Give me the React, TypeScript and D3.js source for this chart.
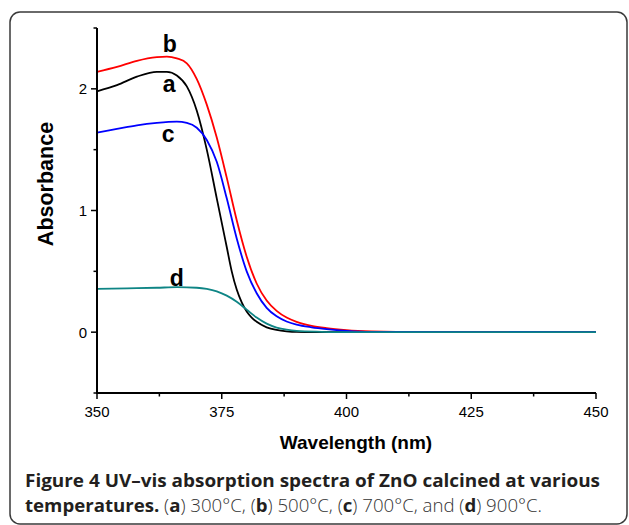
import React from "react";
import * as d3 from "d3";

// ---- data ----
const wavelengthsA = [350, 354, 358, 362, 364, 366, 368, 370, 372, 374, 376, 377, 378, 379, 380, 381, 382, 384, 386, 388, 390, 400, 450];
const absorbanceA = [1.98, 2.03, 2.1, 2.14, 2.14, 2.11, 2.02, 1.82, 1.5, 1.1, 0.7, 0.5, 0.35, 0.245, 0.17, 0.12, 0.085, 0.04, 0.018, 0.007, 0.002, 0, 0];

const wavelengthsB = [350, 354, 358, 362, 364, 366, 368, 370, 372, 374, 376, 378, 380, 382, 384, 386, 388, 390, 393, 396, 400, 405, 410, 450];
const absorbanceB = [2.14, 2.18, 2.23, 2.26, 2.265, 2.25, 2.21, 2.08, 1.87, 1.6, 1.27, 0.92, 0.62, 0.4, 0.26, 0.175, 0.12, 0.085, 0.052, 0.033, 0.017, 0.006, 0.002, 0];

const wavelengthsC = [350, 354, 358, 362, 366, 368, 370, 372, 374, 376, 378, 380, 382, 384, 386, 388, 390, 393, 396, 400, 405, 450];
const absorbanceC = [1.64, 1.67, 1.7, 1.72, 1.73, 1.72, 1.68, 1.58, 1.4, 1.1, 0.77, 0.5, 0.32, 0.2, 0.13, 0.088, 0.062, 0.04, 0.025, 0.011, 0.003, 0];

const wavelengthsD = [350, 356, 362, 366, 370, 372, 374, 376, 378, 380, 382, 384, 386, 388, 390, 395, 400, 450];
const absorbanceD = [0.355, 0.36, 0.365, 0.37, 0.365, 0.355, 0.335, 0.3, 0.25, 0.185, 0.12, 0.07, 0.038, 0.02, 0.01, 0.003, 0, 0];

const seriesNames = ["a", "b", "c", "d"];
const seriesColors = ["#000000", "#ff0000", "#0000ff", "#0e8585"];
const labelWavelengths = [363.2, 363.2, 363.0, 364.6];
const labelAbsorbances = [1.97, 2.3, 1.56, 0.38];

const xMajorTicks = [350, 375, 400, 425, 450];
const xMinorTicks = [362.5, 387.5, 412.5, 437.5];
const yMajorTicks = [0, 1, 2];
const yMinorTicks = [-0.5, 0.5, 1.5, 2.5];

const xTitle = "Wavelength (nm)";
const yTitle = "Absorbance";
const captionLine1 = "Figure 4 UV–vis absorption spectra of ZnO calcined at various";

export default function App() {
  const x = d3.scaleLinear().domain([350, 450]).range([97, 596]);
  const y = d3.scaleLinear().domain([-0.5, 2.5]).range([393, 28]);

  const series = [
    { w: wavelengthsA, v: absorbanceA },
    { w: wavelengthsB, v: absorbanceB },
    { w: wavelengthsC, v: absorbanceC },
    { w: wavelengthsD, v: absorbanceD },
  ];

  const line = d3
    .line<[number, number]>()
    .x((d) => x(d[0]))
    .y((d) => y(d[1]))
    .curve(d3.curveMonotoneX);

  const axisFont = "'Liberation Sans', Arial, sans-serif";
  const capFont = "'Open Sans', 'Noto Sans', sans-serif";
  const [y0, y1] = y.range();
  const [x0, x1] = x.range();

  return (
    <svg
      width={629}
      height={525}
      style={{ position: "absolute", left: 0, top: 0, background: "#fff" }}
    >
      <rect x={10} y={12} width={617} height={512} rx={10} ry={10} fill="#fff" stroke="#3a3a3a" strokeWidth={1.5} />

      {/* curves */}
      {series.map((s, i) => (
        <path
          key={seriesNames[i]}
          d={line(s.w.map((w, j) => [w, s.v[j]] as [number, number])) || ""}
          fill="none"
          stroke={seriesColors[i]}
          strokeWidth={1.8}
        />
      ))}

      {/* axes */}
      <line x1={x0} x2={x0} y1={y1} y2={y0} stroke="#000" strokeWidth={2} />
      <line x1={x0 - 1} x2={x1} y1={y0} y2={y0} stroke="#000" strokeWidth={2} />

      {yMajorTicks.map((t) => (
        <g key={"ym" + t}>
          <line x1={x0 - 6} x2={x0} y1={y(t)} y2={y(t)} stroke="#000" strokeWidth={1.5} />
          <text x={x0 - 10} y={y(t)} dy="0.36em" textAnchor="end" fontFamily={axisFont} fontSize={15} fill="#000">
            {t}
          </text>
        </g>
      ))}
      {yMinorTicks.map((t) => (
        <line key={"yn" + t} x1={x0 - 3.5} x2={x0} y1={y(t)} y2={y(t)} stroke="#000" strokeWidth={1.5} />
      ))}
      {xMajorTicks.map((t) => (
        <g key={"xm" + t}>
          <line x1={x(t)} x2={x(t)} y1={y0} y2={y0 + 6} stroke="#000" strokeWidth={1.5} />
          <text x={x(t)} y={y0 + 24} textAnchor="middle" fontFamily={axisFont} fontSize={15} fill="#000">
            {t}
          </text>
        </g>
      ))}
      {xMinorTicks.map((t) => (
        <line key={"xn" + t} x1={x(t)} x2={x(t)} y1={y0} y2={y0 + 3.5} stroke="#000" strokeWidth={1.5} />
      ))}

      {/* titles */}
      <text x={356} y={449} textAnchor="middle" fontFamily={axisFont} fontWeight="bold" fontSize={19} fill="#000">
        {xTitle}
      </text>
      <text
        transform={`translate(53, 184) rotate(-90)`}
        textAnchor="middle"
        fontFamily={axisFont}
        fontWeight="bold"
        fontSize={21.5}
        fill="#000"
      >
        {yTitle}
      </text>

      {/* series labels */}
      {seriesNames.map((n, i) => (
        <text
          key={"lab" + n}
          x={x(labelWavelengths[i])}
          y={y(labelAbsorbances[i])}
          fontFamily={axisFont}
          fontWeight="bold"
          fontSize={23}
          fill="#000"
        >
          {n}
        </text>
      ))}

      {/* caption */}
      <text x={25} y={487} fontFamily={capFont} fontWeight={700} fontSize={18} fill="#231f20" textLength={575} lengthAdjust="spacingAndGlyphs">
        {captionLine1}
      </text>
      <text x={25} y={512} fontFamily={capFont} fontSize={18} fill="#333" textLength={517} lengthAdjust="spacingAndGlyphs">
        <tspan fontWeight={700} fill="#231f20">temperatures.</tspan>
        <tspan fontWeight={300}> (</tspan>
        <tspan fontWeight={700} fill="#231f20">a</tspan>
        <tspan fontWeight={300}>) 300°C, (</tspan>
        <tspan fontWeight={700} fill="#231f20">b</tspan>
        <tspan fontWeight={300}>) 500°C, (</tspan>
        <tspan fontWeight={700} fill="#231f20">c</tspan>
        <tspan fontWeight={300}>) 700°C, and (</tspan>
        <tspan fontWeight={700} fill="#231f20">d</tspan>
        <tspan fontWeight={300}>) 900°C.</tspan>
      </text>
    </svg>
  );
}
